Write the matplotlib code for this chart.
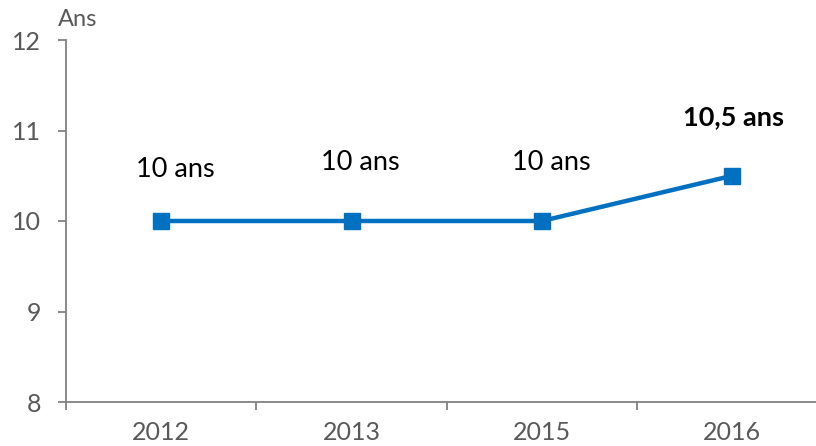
import matplotlib
matplotlib.use("Agg")
import matplotlib.pyplot as plt
from matplotlib.ticker import FixedLocator

plt.rcParams["font.family"] = ["Lato", "DejaVu Sans"]

years = ["2012", "2013", "2015", "2016"]
ages = [10, 10, 10, 10.5]
labels = ["10 ans", "10 ans", "10 ans", "10,5 ans"]
label_offsets = [(10, 37), (6.5, 42), (7, 42), (1, 42)]  # points
label_bold = [False, False, False, True]

AXIS = "#808080"
TICK = "#595959"
BLUE = "#0070C0"

fig = plt.figure(figsize=(8.16, 4.46), dpi=100)
ax = fig.add_axes([66 / 816, 1 - 402 / 446, 750 / 816, 362 / 446])

x = list(range(len(years)))
ax.plot(x, ages, color=BLUE, linewidth=3.2, marker="s", markersize=11,
        clip_on=False, zorder=3)

for xi, yi, lab, off, b in zip(x, ages, labels, label_offsets, label_bold):
    ax.annotate(lab, (xi, yi), xytext=off, textcoords="offset points",
                ha="center", va="center", fontsize=19.5,
                fontweight="bold" if b else "normal", color="black")

ax.set_xlim(-0.5, 3.44)
ax.set_ylim(8, 12)
ax.set_yticks([8, 9, 10, 11, 12])
ax.set_xticks(x)
ax.set_xticklabels(years)
ax.xaxis.set_minor_locator(FixedLocator([-0.5, 0.5, 1.5, 2.5]))

ax.tick_params(axis="x", which="major", length=0, pad=14, labelsize=18,
               labelcolor=TICK)
ax.tick_params(axis="x", which="minor", length=6, width=1.3, color=AXIS,
               direction="out")
ax.tick_params(axis="y", length=6, width=1.3, color=AXIS, pad=12,
               labelsize=18, labelcolor=TICK)

for s in ["top", "right"]:
    ax.spines[s].set_visible(False)
for s in ["left", "bottom"]:
    ax.spines[s].set_color(AXIS)
    ax.spines[s].set_linewidth(1.3)

fig.text(58 / 816, 1 - 20 / 446, "Ans", fontsize=17, color=TICK,
         ha="left", va="center")

fig.savefig("out.png", dpi=100)
